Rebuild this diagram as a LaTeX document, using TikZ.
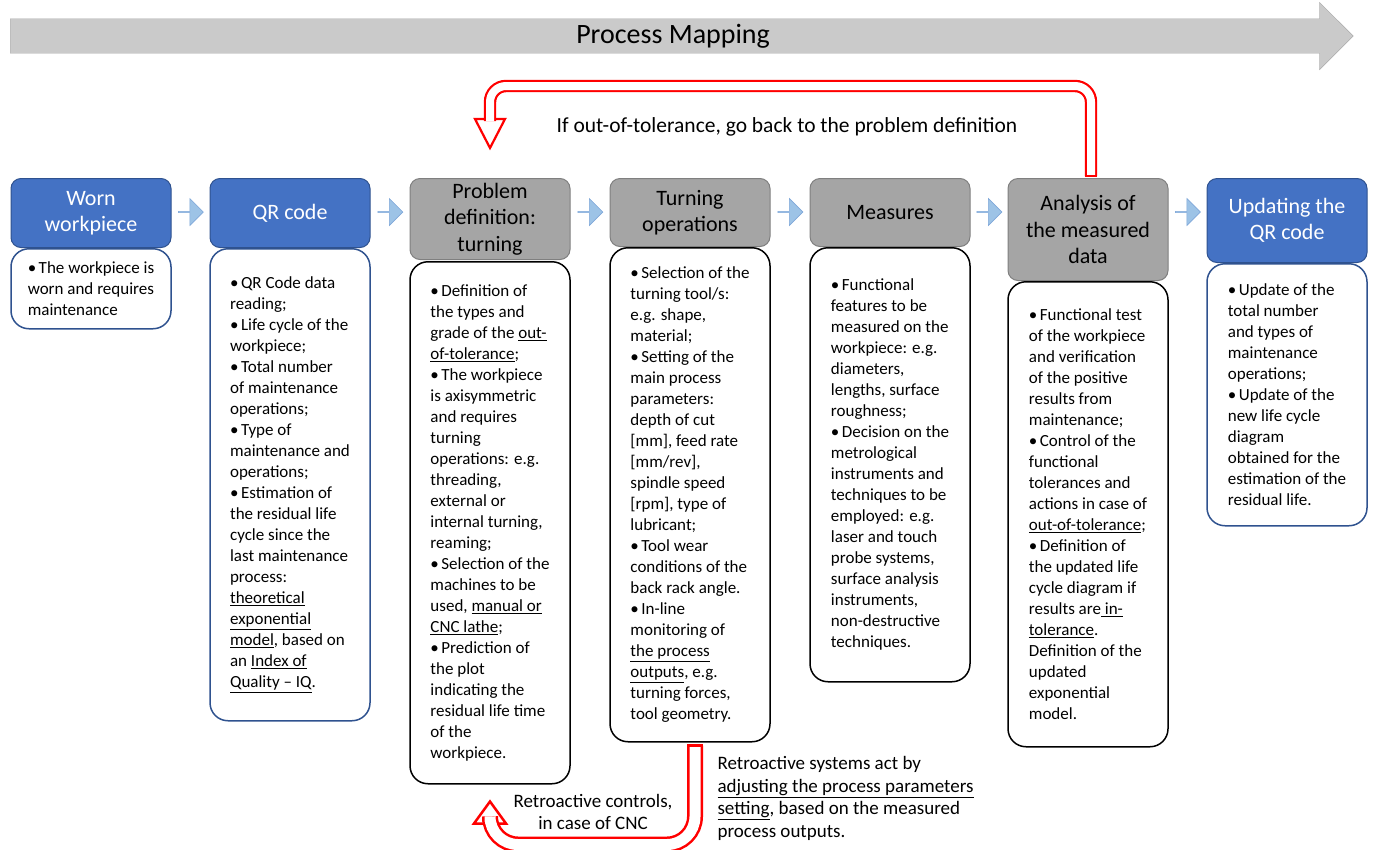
\documentclass[tikz,border=0pt]{standalone}
\usepackage{fontspec}
\setmainfont{Carlito}
\usepackage{tikz}
\usetikzlibrary{arrows.meta, positioning, shapes.arrows, calc}
\definecolor{HeadBlue}{HTML}{4472C4}
\definecolor{HeadBlueEdge}{HTML}{2F528F}
\definecolor{HeadGray}{HTML}{A5A5A5}
\definecolor{HeadGrayEdge}{HTML}{7F7F7F}
\definecolor{FlowBlue}{HTML}{9DC3E6}
\definecolor{FlowBlueEdge}{HTML}{7FA7D9}
\definecolor{MapGray}{HTML}{CACACA}
\definecolor{MapGrayEdge}{HTML}{A6A6A6}
\newcommand{\bp}{•\hspace{2.5pt}}

\begin{document}
\begin{tikzpicture}[
  x=1pt, y=1pt,
  bluehead/.style={rectangle, draw=HeadBlueEdge, line width=1pt, rounded corners=10pt, fill=HeadBlue, text=white, minimum width=160pt, align=center, font=\fontsize{22}{26.5}\selectfont},
  grayhead/.style={bluehead, draw=HeadGrayEdge, fill=HeadGray, text=black},
  bluebody/.style={rectangle, draw=HeadBlueEdge, line width=1.5pt, rounded corners=18pt, fill=white, minimum width=160pt, align=left, font=\fontsize{17}{21}\selectfont},
  blackbody/.style={bluebody, draw=black},
  flowarrow/.style={single arrow, draw=FlowBlueEdge, fill=FlowBlue, line width=0.6pt, minimum height=25pt, minimum width=27pt, single arrow head extend=6pt, inner sep=0pt},
  redband/.style={draw=red, line width=2.2pt, double=white, double distance=8pt, rounded corners=16pt},
  redhead/.style={draw=red, line width=2.2pt, fill=white, line join=miter},
  note/.style={font=\fontsize{19}{22.5}\selectfont}
]
\useasboundingbox (0,0) rectangle (1375,-849);

% process mapping banner
\node[single arrow, draw=MapGrayEdge, fill=MapGray, minimum height=1343pt, minimum width=66pt,
  single arrow head extend=16.5pt, inner xsep=0pt, inner ysep=5pt, anchor=tail,
  font=\fontsize{28}{32}\selectfont] (mapping) at (10,-36) {Process Mapping};

% headers
\node[bluehead, minimum height=69pt, anchor=north] (worn) at (91,-178) {Worn\\workpiece};
\node[bluehead, minimum height=69pt, right=38pt of worn.north east, anchor=north west] (qr) {QR code};
\node[grayhead, minimum height=81pt, right=39pt of qr.north east, anchor=north west] (prob) {Problem\\definition:\\turning};
\node[grayhead, minimum height=68pt, right=39pt of prob.north east, anchor=north west] (turn) {Turning\\operations};
\node[grayhead, minimum height=68pt, right=39pt of turn.north east, anchor=north west] (meas) {Measures};
\node[grayhead, minimum height=102pt, right=37pt of meas.north east, anchor=north west] (anal) {Analysis of\\the measured\\data};
\node[bluehead, minimum height=84pt, right=38pt of anal.north east, anchor=north west] (upd) {Updating the\\QR code};

% bodies
\node[bluebody, minimum height=80pt, below=0pt of worn] (wornbody)
  {\bp The workpiece is\\worn and requires\\maintenance};
\node[bluebody, minimum height=472pt, below=0pt of qr] (qrbody)
  {\bp QR Code data\\reading;\\\bp Life cycle of the\\workpiece;\\\bp Total number\\of maintenance\\operations;\\\bp Type of\\maintenance and\\operations;\\\bp Estimation of\\the residual life\\cycle since the\\last maintenance\\process:\\\underline{theoretical}\\\underline{exponential}\\\underline{model}, based on\\an \underline{Index of}\\\underline{Quality -- IQ}.};
\node[blackbody, minimum height=522pt, below=1pt of prob] (probbody)
  {\bp Definition of\\the types and\\grade of the \underline{out-}\\\underline{of-tolerance};\\\bp The workpiece\\is axisymmetric\\and requires\\turning\\operations: e.g.\\threading,\\external or\\internal turning,\\reaming;\\\bp Selection of the\\machines to be\\used, \underline{manual or}\\\underline{CNC lathe};\\\bp Prediction of\\the plot\\indicating the\\residual life time\\of the\\workpiece.};
\node[blackbody, minimum height=494pt, below=0pt of turn] (turnbody)
  {\bp Selection of the\\turning tool/s:\\e.g. shape,\\material;\\\bp Setting of the\\main process\\parameters:\\depth of cut\\{[mm]}, feed rate\\{[mm/rev]},\\spindle speed\\{[rpm]}, type of\\lubricant;\\\bp Tool wear\\conditions of the\\back rack angle.\\\bp In-line\\monitoring of\\\underline{the process}\\\underline{outputs}, e.g.\\turning forces,\\tool geometry.};
\node[blackbody, minimum height=434pt, below=0pt of meas] (measbody)
  {\bp Functional\\features to be\\measured on the\\workpiece: e.g.\\diameters,\\lengths, surface\\roughness;\\\bp Decision on the\\metrological\\instruments and\\techniques to be\\employed: e.g.\\laser and touch\\probe systems,\\surface analysis\\instruments,\\non-destructive\\techniques.};
\node[blackbody, minimum height=465pt, below=0pt of anal] (analbody)
  {\bp Functional test\\of the workpiece\\and verification\\of the positive\\results from\\maintenance;\\\bp Control of the\\functional\\tolerances and\\actions in case of\\\underline{out-of-tolerance};\\\bp Definition of\\the updated life\\cycle diagram if\\results are\underline{ in-}\\\underline{tolerance}.\\Definition of the\\updated\\exponential\\model.};
\node[bluebody, minimum height=262pt, below=0pt of upd] (updbody)
  {\bp Update of the\\total number\\and types of\\maintenance\\operations;\\\bp Update of the\\new life cycle\\diagram\\obtained for the\\estimation of the\\residual life.};

% flow arrows between headers
\foreach \a/\b in {worn/qr, qr/prob, prob/turn, turn/meas, meas/anal, anal/upd}
  \node[flowarrow] (to-\b) at ($(\a.north east)!0.5!(\b.north west)+(0,-34)$) {};

% feedback to problem definition
\coordinate (backstart) at ([xshift=3pt,yshift=2pt]anal.north);
\coordinate (backtip) at ([yshift=30pt]prob.north);
\draw[redhead] (backtip) -- ++(-15,29) -- ++(30,0) -- cycle;
\draw[redband] (backstart) -- ++(0,90) -| ([yshift=27pt]backtip);
\draw[red, line width=2.2pt] ([xshift=-6.2pt]backstart) -- ([xshift=6.2pt]backstart);
\node[font=\fontsize{21.5}{25}\selectfont] (backlabel) at (787,-127) {If out-of-tolerance, go back to the problem definition};

% retroactive controls
\coordinate (cncstart) at ([xshift=5pt,yshift=-3pt]turnbody.south);
\coordinate (cnctip) at ([yshift=-17pt]probbody.south);
\draw[redhead, line width=2.5pt] (cnctip) -- ++(-16,-22) -- ++(32,0) -- cycle;
\draw[redband, line width=2.5pt, double distance=11pt, rounded corners=28pt] (cncstart) -- ++(0,-99) -| ([yshift=-20pt]cnctip);
\draw[red, line width=2.5pt] ([xshift=-8pt]cncstart) -- ([xshift=8pt]cncstart);
\node[note, align=center] (cnclabel) at (593,-812) {Retroactive controls,\\in case of CNC};
\node[note, align=left, anchor=west] (retrolabel) at (714,-798.5)
  {Retroactive systems act by\\\underline{adjusting the process parameters}\\\underline{setting}, based on the measured\\process outputs.};
\end{tikzpicture}
\end{document}
